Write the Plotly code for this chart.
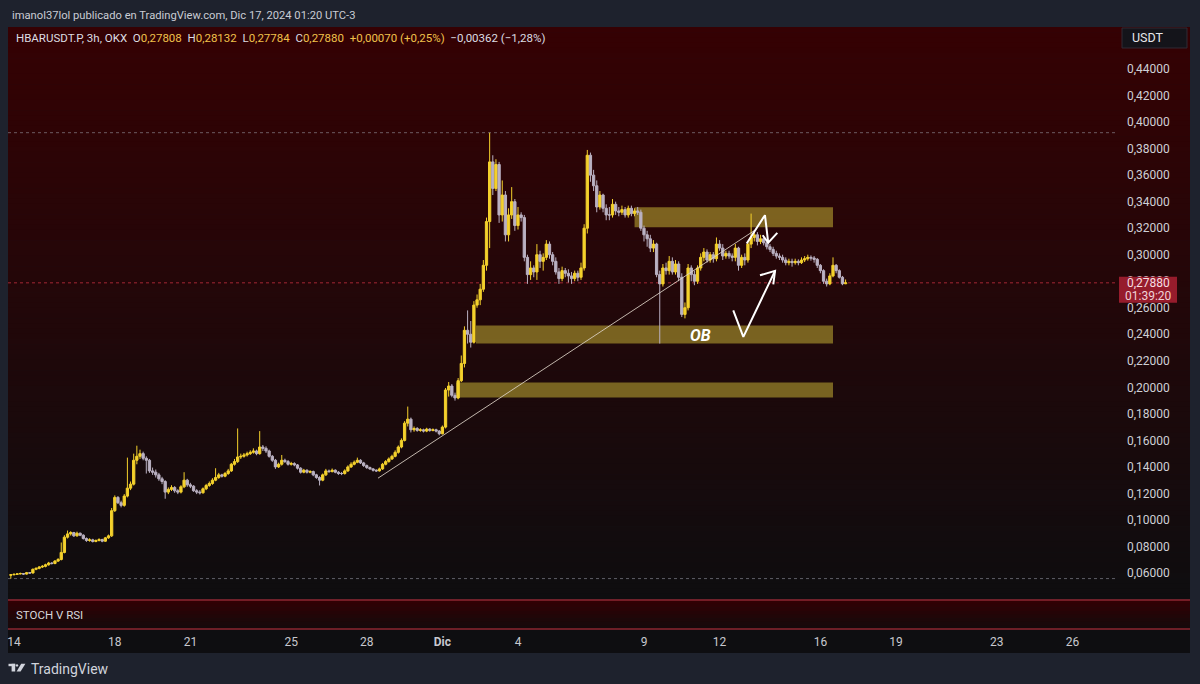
import plotly.graph_objects as go
import pandas as pd

# ---------------- data ----------------
first_open = 0.0583
last_open = 0.27808
bar_start = "2024-11-13 21:00"   # 3h bars

closes = [
    0.0587,
    0.0590, 0.0593, 0.0596, 0.0592, 0.0602, 0.0600, 0.0628, 0.0635,   # Nov 14
    0.0645, 0.0650, 0.0662, 0.0675, 0.0672, 0.0690, 0.0702, 0.0755,   # Nov 15
    0.0870, 0.0895, 0.0905, 0.0880, 0.0900, 0.0885, 0.0860, 0.0845,   # Nov 16
    0.0850, 0.0838, 0.0845, 0.0852, 0.0840, 0.0865, 0.0880, 0.1070,   # Nov 17
    0.1170, 0.1130, 0.1110, 0.1180, 0.1240, 0.1270, 0.1450, 0.1480,   # Nov 18
    0.1500, 0.1465, 0.1450, 0.1370, 0.1360, 0.1340, 0.1310, 0.1290,   # Nov 19
    0.1210, 0.1230, 0.1245, 0.1220, 0.1210, 0.1250, 0.1300, 0.1265,   # Nov 20
    0.1255, 0.1220, 0.1210, 0.1205, 0.1235, 0.1260, 0.1275, 0.1300,   # Nov 21
    0.1320, 0.1340, 0.1330, 0.1350, 0.1370, 0.1420, 0.1440, 0.1475,   # Nov 22
    0.1480, 0.1490, 0.1500, 0.1510, 0.1520, 0.1500, 0.1550, 0.1540,   # Nov 23
    0.1520, 0.1480, 0.1450, 0.1400, 0.1420, 0.1450, 0.1440, 0.1420,   # Nov 24
    0.1425, 0.1415, 0.1390, 0.1360, 0.1375, 0.1360, 0.1365, 0.1340,   # Nov 25
    0.1320, 0.1300, 0.1340, 0.1370, 0.1365, 0.1375, 0.1360, 0.1350,   # Nov 26
    0.1350, 0.1370, 0.1400, 0.1420, 0.1435, 0.1450, 0.1430, 0.1410,   # Nov 27
    0.1395, 0.1385, 0.1375, 0.1370, 0.1385, 0.1420, 0.1440, 0.1460,   # Nov 28
    0.1480, 0.1510, 0.1550, 0.1600, 0.1730, 0.1760, 0.1680, 0.1690,   # Nov 29
    0.1675, 0.1680, 0.1670, 0.1685, 0.1675, 0.1680, 0.1670, 0.1650,   # Nov 30
    0.1700, 0.1980, 0.2010, 0.1940, 0.1920, 0.2050, 0.2180, 0.2430,   # Dec 1
    0.2400, 0.2340, 0.2620, 0.2660, 0.2740, 0.2920, 0.3250, 0.3700,   # Dec 2
    0.3500, 0.3680, 0.3300, 0.3450, 0.3150, 0.3300, 0.3400, 0.3220,   # Dec 3
    0.3300, 0.3280, 0.2980, 0.2850, 0.2900, 0.2870, 0.3000, 0.2950,   # Dec 4
    0.2980, 0.3080, 0.3000, 0.2950, 0.2870, 0.2820, 0.2880, 0.2860,   # Dec 5
    0.2840, 0.2820, 0.2860, 0.2830, 0.2900, 0.3200, 0.3750, 0.3600,   # Dec 6
    0.3520, 0.3360, 0.3450, 0.3350, 0.3300, 0.3300, 0.3380, 0.3330,   # Dec 7
    0.3320, 0.3340, 0.3300, 0.3350, 0.3310, 0.3330, 0.3320, 0.3200,   # Dec 8
    0.3150, 0.3120, 0.3050, 0.3080, 0.2850, 0.2780, 0.2900, 0.2880,   # Dec 9
    0.2950, 0.2870, 0.2930, 0.2830, 0.2550, 0.2600, 0.2900, 0.2850,   # Dec 10
    0.2800, 0.2900, 0.2980, 0.3020, 0.2960, 0.3000, 0.2970, 0.3080,   # Dec 11
    0.3050, 0.2990, 0.3010, 0.2990, 0.2980, 0.3050, 0.2920, 0.2980,   # Dec 12
    0.2960, 0.3080, 0.3130, 0.3150, 0.3100, 0.3120, 0.3090, 0.3060,   # Dec 13
    0.3040, 0.3010, 0.2990, 0.2980, 0.2960, 0.2940, 0.2950, 0.2940,   # Dec 14
    0.2950, 0.2940, 0.2960, 0.2970, 0.2980, 0.2975, 0.2965, 0.2920,   # Dec 15
    0.2880, 0.2800, 0.2780, 0.2840, 0.2920, 0.2880, 0.2830, 0.27810,  # Dec 16
    0.27880,                                                          # Dec 17
]

highs = [
    0.0590,
    0.0596, 0.0598, 0.0603, 0.0599, 0.0608, 0.0607, 0.0634, 0.0642,
    0.0652, 0.0660, 0.0670, 0.0684, 0.0682, 0.0698, 0.0712, 0.0830,
    0.0885, 0.0920, 0.0915, 0.0910, 0.0912, 0.0905, 0.0892, 0.0868,
    0.0862, 0.0858, 0.0853, 0.0862, 0.0858, 0.0872, 0.0890, 0.1090,
    0.1185, 0.1180, 0.1145, 0.1195, 0.1470, 0.1290, 0.1500, 0.1560,
    0.1530, 0.1515, 0.1480, 0.1460, 0.1395, 0.1380, 0.1355, 0.1325,
    0.1300, 0.1245, 0.1262, 0.1255, 0.1232, 0.1262, 0.1360, 0.1310,
    0.1280, 0.1262, 0.1232, 0.1225, 0.1245, 0.1272, 0.1290, 0.1315,
    0.1390, 0.1355, 0.1348, 0.1362, 0.1385, 0.1430, 0.1460, 0.1690,
    0.1500, 0.1505, 0.1515, 0.1525, 0.1540, 0.1530, 0.1670, 0.1565,
    0.1555, 0.1530, 0.1490, 0.1460, 0.1432, 0.1490, 0.1462, 0.1452,
    0.1438, 0.1435, 0.1422, 0.1398, 0.1385, 0.1382, 0.1375, 0.1372,
    0.1348, 0.1330, 0.1350, 0.1385, 0.1380, 0.1388, 0.1382, 0.1368,
    0.1362, 0.1382, 0.1412, 0.1435, 0.1448, 0.1470, 0.1458, 0.1438,
    0.1418, 0.1402, 0.1392, 0.1382, 0.1395, 0.1430, 0.1452, 0.1472,
    0.1492, 0.1525, 0.1562, 0.1615, 0.1745, 0.1855, 0.1772, 0.1705,
    0.1700, 0.1692, 0.1688, 0.1695, 0.1692, 0.1690, 0.1688, 0.1678,
    0.1712, 0.1995, 0.2040, 0.2025, 0.1960, 0.2070, 0.2240, 0.2460,
    0.2580, 0.2500, 0.2650, 0.2700, 0.2780, 0.2960, 0.3280, 0.3920,
    0.3750, 0.3720, 0.3700, 0.3560, 0.3480, 0.3350, 0.3510, 0.3420,
    0.3360, 0.3320, 0.3300, 0.3000, 0.2950, 0.2920, 0.3080, 0.3030,
    0.3010, 0.3110, 0.3100, 0.3020, 0.2980, 0.2900, 0.2910, 0.2900,
    0.2890, 0.2870, 0.2880, 0.2880, 0.2940, 0.3230, 0.3790, 0.3770,
    0.3640, 0.3560, 0.3480, 0.3460, 0.3380, 0.3360, 0.3420, 0.3400,
    0.3360, 0.3370, 0.3360, 0.3370, 0.3370, 0.3350, 0.3360, 0.3340,
    0.3220, 0.3180, 0.3150, 0.3110, 0.3090, 0.2880, 0.2930, 0.2940,
    0.2990, 0.2980, 0.2960, 0.2950, 0.2860, 0.2640, 0.2930, 0.2920,
    0.2880, 0.2920, 0.3010, 0.3050, 0.3040, 0.3020, 0.3020, 0.3130,
    0.3110, 0.3080, 0.3030, 0.3030, 0.3010, 0.3080, 0.3060, 0.3000,
    0.3010, 0.3100, 0.3310, 0.3180, 0.3170, 0.3150, 0.3130, 0.3100,
    0.3080, 0.3060, 0.3030, 0.3010, 0.3000, 0.2980, 0.2970, 0.2970,
    0.2970, 0.2965, 0.2980, 0.2990, 0.3000, 0.2995, 0.2990, 0.2975,
    0.2930, 0.2890, 0.2820, 0.2860, 0.2980, 0.2930, 0.2890, 0.2840,
    0.28132,
]

lows = [
    0.0558,
    0.0582, 0.0586, 0.0589, 0.0586, 0.0588, 0.0594, 0.0596, 0.0621,
    0.0628, 0.0638, 0.0643, 0.0655, 0.0664, 0.0666, 0.0683, 0.0695,
    0.0748, 0.0860, 0.0882, 0.0872, 0.0874, 0.0878, 0.0852, 0.0835,
    0.0836, 0.0830, 0.0832, 0.0838, 0.0832, 0.0835, 0.0858, 0.0872,
    0.1060, 0.1120, 0.1095, 0.1100, 0.1170, 0.1225, 0.1260, 0.1420,
    0.1460, 0.1450, 0.1350, 0.1355, 0.1340, 0.1320, 0.1295, 0.1270,
    0.1160, 0.1195, 0.1218, 0.1205, 0.1195, 0.1200, 0.1240, 0.1250,
    0.1240, 0.1212, 0.1195, 0.1192, 0.1198, 0.1225, 0.1250, 0.1265,
    0.1292, 0.1310, 0.1320, 0.1322, 0.1340, 0.1362, 0.1410, 0.1430,
    0.1460, 0.1470, 0.1478, 0.1490, 0.1500, 0.1488, 0.1492, 0.1520,
    0.1505, 0.1470, 0.1438, 0.1385, 0.1392, 0.1410, 0.1430, 0.1410,
    0.1410, 0.1405, 0.1380, 0.1350, 0.1352, 0.1350, 0.1352, 0.1330,
    0.1310, 0.1260, 0.1292, 0.1332, 0.1355, 0.1358, 0.1352, 0.1340,
    0.1338, 0.1342, 0.1362, 0.1392, 0.1412, 0.1428, 0.1422, 0.1400,
    0.1385, 0.1378, 0.1365, 0.1362, 0.1365, 0.1378, 0.1412, 0.1432,
    0.1452, 0.1472, 0.1500, 0.1540, 0.1592, 0.1705, 0.1660, 0.1665,
    0.1665, 0.1665, 0.1660, 0.1662, 0.1665, 0.1668, 0.1660, 0.1638,
    0.1645, 0.1690, 0.1930, 0.1925, 0.1900, 0.1910, 0.2040, 0.2150,
    0.2330, 0.2300, 0.2330, 0.2600, 0.2620, 0.2720, 0.2880, 0.3050,
    0.3450, 0.3480, 0.3240, 0.3250, 0.3100, 0.3100, 0.3270, 0.3180,
    0.3190, 0.3250, 0.2950, 0.2780, 0.2810, 0.2830, 0.2810, 0.2900,
    0.2880, 0.2960, 0.2970, 0.2920, 0.2850, 0.2780, 0.2800, 0.2830,
    0.2790, 0.2780, 0.2800, 0.2800, 0.2810, 0.2880, 0.3160, 0.3550,
    0.3480, 0.3320, 0.3340, 0.3320, 0.3260, 0.3260, 0.3280, 0.3300,
    0.3290, 0.3300, 0.3280, 0.3280, 0.3290, 0.3290, 0.3300, 0.3180,
    0.3100, 0.3060, 0.3020, 0.3020, 0.2830, 0.2330, 0.2760, 0.2850,
    0.2850, 0.2850, 0.2850, 0.2800, 0.2530, 0.2520, 0.2580, 0.2800,
    0.2770, 0.2780, 0.2880, 0.2950, 0.2940, 0.2940, 0.2940, 0.2950,
    0.3030, 0.2960, 0.2970, 0.2970, 0.2950, 0.2950, 0.2880, 0.2900,
    0.2920, 0.2940, 0.3050, 0.3100, 0.3070, 0.3080, 0.3070, 0.3040,
    0.3020, 0.2990, 0.2970, 0.2960, 0.2940, 0.2920, 0.2920, 0.2910,
    0.2925, 0.2920, 0.2930, 0.2945, 0.2955, 0.2955, 0.2940, 0.2900,
    0.2860, 0.2780, 0.2760, 0.2770, 0.2830, 0.2860, 0.2820, 0.2770,
    0.27784,
]

price_ticks = [0.06, 0.08, 0.10, 0.12, 0.14, 0.16, 0.18, 0.20, 0.22, 0.24,
               0.26, 0.28, 0.30, 0.32, 0.34, 0.36, 0.38, 0.40, 0.42, 0.44]
day_ticks = ["2024-11-14", "2024-11-18", "2024-11-21", "2024-11-25", "2024-11-28",
             "2024-12-01", "2024-12-04", "2024-12-09", "2024-12-12", "2024-12-16",
             "2024-12-19", "2024-12-23", "2024-12-26"]
day_labels = ["14", "18", "21", "25", "28", "<b>Dic</b>", "4", "9", "12", "16",
              "19", "23", "26"]

# drawings (time, price)
trend_x = ["2024-11-28 10:40", "2024-12-13 09:40"]
trend_y = [0.1315, 0.3185]
zone_x0 = ["2024-12-08 15:00", "2024-12-02 08:00", "2024-12-01 13:00"]
zone_x1 = ["2024-12-16 12:00", "2024-12-16 12:00", "2024-12-16 12:00"]
zone_lo = [0.3207, 0.2331, 0.1924]
zone_hi = [0.3358, 0.2467, 0.2037]
ob_label = ("2024-12-11 05:20", 0.2392, "OB")
arrow1_x = ["2024-12-13 01:48", "2024-12-13 19:12", "2024-12-13 22:20", None,
            "2024-12-13 17:02", "2024-12-13 22:20", "2024-12-14 06:58"]
arrow1_y = [0.3085, 0.3298, 0.3090, None, 0.3147, 0.3090, 0.3165]
arrow2_x = ["2024-12-12 13:00", "2024-12-12 22:37", "2024-12-14 04:48", None,
            "2024-12-13 14:28", "2024-12-14 04:48", "2024-12-14 03:08"]
arrow2_y = [0.2581, 0.2380, 0.2878, None, 0.2845, 0.2878, 0.2777]

x_range = ["2024-11-13 18:17", "2024-12-27 18:29"]
y_range = [0.0404, 0.4717]
countdown = "01:39:20"
day_change = "−0,00362 (−1,28%)"

# ---------------- build ----------------
times = pd.date_range(bar_start, periods=len(closes), freq="3h")
opens = [first_open] + closes[:-2] + [last_open]

def fmt(v):
    return f"{v:.5f}".replace(".", ",")

UP = "#f4d12c"
DOWN = "#bab1c2"
PAGE = "rgb(30,34,45)"
FONT = "Roboto, Inter, sans-serif"

L, R, T, B = 8, 1117, 27, 629
def px(x):
    return (x - L) / (R - L)
def py(y):
    return (B - y) / (B - T)
K = (599 - 27) / (y_range[1] - y_range[0])   # pixels per price unit

fig = go.Figure()
fig.add_trace(go.Candlestick(
    x=times, open=opens, high=highs, low=lows, close=closes,
    increasing=dict(line=dict(color=UP, width=1), fillcolor=UP),
    decreasing=dict(line=dict(color=DOWN, width=1), fillcolor=DOWN),
    whiskerwidth=0, hoverinfo="skip", showlegend=False,
))
fig.add_trace(go.Scatter(x=trend_x, y=trend_y, mode="lines",
                         line=dict(color="rgba(222,212,200,0.85)", width=1),
                         hoverinfo="skip", showlegend=False))
for ax_, ay_ in [(arrow1_x, arrow1_y), (arrow2_x, arrow2_y)]:
    fig.add_trace(go.Scatter(x=ax_, y=ay_, mode="lines",
                             line=dict(color="white", width=2),
                             hoverinfo="skip", showlegend=False, connectgaps=False))
fig.add_trace(go.Scatter(x=[times[0]], y=[0.5], yaxis="y2", mode="markers",
                         marker=dict(opacity=0), hoverinfo="skip", showlegend=False))

shapes = []
def lerp(a, b, f):
    return tuple(int(round(a[i] + (b[i] - a[i]) * f)) for i in range(3))

N = 110
top_c, bot_c = (53, 1, 3), (14, 13, 15)
y_top, y_bot = 27, 599
h = (y_bot - y_top) / N
for i in range(N):
    c = lerp(top_c, bot_c, (i + 0.5) / N)
    shapes.append(dict(type="rect", xref="paper", yref="paper", layer="below",
                       x0=px(8), x1=px(1190), y0=py(y_top + i * h + h + 0.6),
                       y1=py(y_top + i * h), line=dict(width=0),
                       fillcolor=f"rgb{c}"))
M = 8
s_top, s_bot = 600, 629
hs = (s_bot - s_top) / M
for i in range(M):
    c = lerp((50, 0, 3), (20, 10, 12), (i + 0.5) / M)
    shapes.append(dict(type="rect", xref="paper", yref="paper", layer="below",
                       x0=px(8), x1=px(1190), y0=py(s_top + i * hs + hs + 0.6),
                       y1=py(s_top + i * hs), line=dict(width=0),
                       fillcolor=f"rgb{c}"))
shapes.append(dict(type="rect", xref="paper", yref="paper", layer="below",
                   x0=px(8), x1=px(1190), y0=py(653), y1=py(629),
                   line=dict(width=0), fillcolor="rgb(14,14,17)"))
for yy in (600, 629):
    shapes.append(dict(type="line", xref="paper", yref="paper", layer="above",
                       x0=px(8), x1=px(1190), y0=py(yy), y1=py(yy),
                       line=dict(color="rgb(140,38,48)", width=1.3)))
shapes.append(dict(type="line", xref="paper", yref="y", layer="below",
                   x0=0, x1=1, y0=max(highs), y1=max(highs),
                   line=dict(color="rgba(150,150,160,0.6)", width=1, dash="dot")))
shapes.append(dict(type="line", xref="paper", yref="y", layer="below",
                   x0=0, x1=1, y0=min(lows), y1=min(lows),
                   line=dict(color="rgba(150,150,160,0.6)", width=1, dash="dot")))
shapes.append(dict(type="line", xref="paper", yref="y", layer="below",
                   x0=0, x1=1, y0=closes[-1], y1=closes[-1],
                   line=dict(color="rgba(185,45,60,0.85)", width=1, dash="dot")))
for x0, x1, lo, hi in zip(zone_x0, zone_x1, zone_lo, zone_hi):
    shapes.append(dict(type="rect", xref="x", yref="y", layer="below",
                       x0=x0, x1=x1, y0=lo, y1=hi, line=dict(width=0),
                       fillcolor="rgba(182,160,48,0.60)"))
c_last = closes[-1]
shapes.append(dict(type="rect", xref="paper", yref="y", layer="above",
                   x0=px(1119), x1=px(1177), y0=c_last - 20 / K, y1=c_last + 6 / K,
                   line=dict(width=0), fillcolor="rgb(150,28,44)"))
shapes.append(dict(type="rect", xref="paper", yref="paper", layer="above",
                   x0=px(1122), x1=px(1187), y0=py(48), y1=py(28),
                   line=dict(color="rgb(48,42,52)", width=1),
                   fillcolor="rgb(20,20,26)"))
shapes.append(dict(type="rect", xref="paper", yref="paper", layer="above",
                   x0=px(8.5), x1=px(15.2), y0=py(666.2), y1=py(663.8),
                   line=dict(width=0), fillcolor="#d1d4dc"))
shapes.append(dict(type="rect", xref="paper", yref="paper", layer="above",
                   x0=px(11.6), x1=px(15.2), y0=py(671.5), y1=py(663.8),
                   line=dict(width=0), fillcolor="#d1d4dc"))
shapes.append(dict(type="circle", xref="paper", yref="paper", layer="above",
                   x0=px(15.8), x1=px(18.2), y0=py(666.6), y1=py(664.2),
                   line=dict(width=0), fillcolor="#d1d4dc"))
shapes.append(dict(type="path", xref="paper", yref="paper", layer="above",
                   path=(f"M {px(21.2)} {py(663.8)} L {px(25.4)} {py(663.8)} "
                         f"L {px(20.6)} {py(671.5)} L {px(16.6)} {py(671.5)} Z"),
                   line=dict(width=0), fillcolor="#d1d4dc"))

o_, h_, l_ = opens[-1], highs[-1], lows[-1]
prev_c = closes[-2]
chg = c_last - prev_c
pct = f"{chg / prev_c * 100:.2f}".replace(".", ",")
Y = "#f0c24b"
legend_txt = (
    "HBARUSDT.P, 3h, OKX&nbsp;&nbsp;"
    f"O<span style='color:{Y}'>{fmt(o_)}</span>&nbsp;&nbsp;"
    f"H<span style='color:{Y}'>{fmt(h_)}</span>&nbsp;&nbsp;"
    f"L<span style='color:{Y}'>{fmt(l_)}</span>&nbsp;&nbsp;"
    f"C<span style='color:{Y}'>{fmt(c_last)}</span>&nbsp;&nbsp;"
    f"<span style='color:{Y}'>+{fmt(chg)} (+{pct}%)</span>"
    f"&nbsp;&nbsp;{day_change}"
)

annotations = [
    dict(text="imanol37lol publicado en TradingView.com, Dic 17, 2024 01:20 UTC-3",
         xref="paper", yref="paper", x=px(10), y=py(16), xanchor="left",
         yanchor="middle", showarrow=False,
         font=dict(family=FONT, size=11.2, color="#c9ccd4")),
    dict(text=legend_txt, xref="paper", yref="paper", x=px(14), y=py(38),
         xanchor="left", yanchor="middle", showarrow=False,
         font=dict(family=FONT, size=11.5, color="#dcdde2")),
    dict(text="USDT", xref="paper", yref="paper", x=px(1130), y=py(38),
         xanchor="left", yanchor="middle", showarrow=False,
         font=dict(family=FONT, size=12.5, color="#e6e6ea")),
    dict(text="STOCH V RSI", xref="paper", yref="paper", x=px(14), y=py(614.5),
         xanchor="left", yanchor="middle", showarrow=False,
         font=dict(family=FONT, size=11.5, color="#d6d7dc")),
    dict(text="TradingView", xref="paper", yref="paper", x=px(29), y=py(668.5),
         xanchor="left", yanchor="middle", showarrow=False,
         font=dict(family=FONT, size=14, color="#d1d4dc")),
    dict(text=f"<b><i>{ob_label[2]}</i></b>", xref="x", yref="y",
         x=ob_label[0], y=ob_label[1], showarrow=False,
         font=dict(family=FONT, size=16, color="white")),
    dict(text=fmt(c_last), xref="paper", yref="y", x=px(1148), y=c_last,
         xanchor="center", yanchor="middle", showarrow=False,
         font=dict(family=FONT, size=12, color="#f6dfe2")),
    dict(text=countdown, xref="paper", yref="y", x=px(1148), y=c_last,
         yshift=-13, xanchor="center", yanchor="middle", showarrow=False,
         font=dict(family=FONT, size=12, color="#f0d2d6")),
]

fig.update_layout(
    width=1200, height=684,
    margin=dict(l=L, r=1200 - R, t=T, b=684 - B),
    paper_bgcolor=PAGE, plot_bgcolor="rgba(0,0,0,0)",
    separators=",.",
    showlegend=False,
    boxgap=0.15, boxgroupgap=0.15,
    shapes=shapes, annotations=annotations,
    xaxis=dict(type="date", range=x_range, anchor="y2", showgrid=False,
               zeroline=False, showline=False, ticks="",
               tickvals=day_ticks, ticktext=day_labels, ticklabelstandoff=4,
               tickfont=dict(family=FONT, size=12, color="#c8c9cf"),
               rangeslider=dict(visible=False), fixedrange=True),
    yaxis=dict(domain=[py(599), 1], range=y_range, side="right", showgrid=False,
               zeroline=False, showline=False, ticks="",
               tickvals=price_ticks, tickformat=".5f", ticklabelstandoff=9,
               tickfont=dict(family=FONT, size=12, color="#cfd0d6"),
               fixedrange=True),
    yaxis2=dict(domain=[0, py(601)], range=[0, 1], showgrid=False, zeroline=False,
                showticklabels=False, showline=False, fixedrange=True),
)

fig.write_html("out.html", config={"displayModeBar": False},
               post_script="document.body.style.margin='0px';"
                           "document.body.style.overflow='hidden';")
